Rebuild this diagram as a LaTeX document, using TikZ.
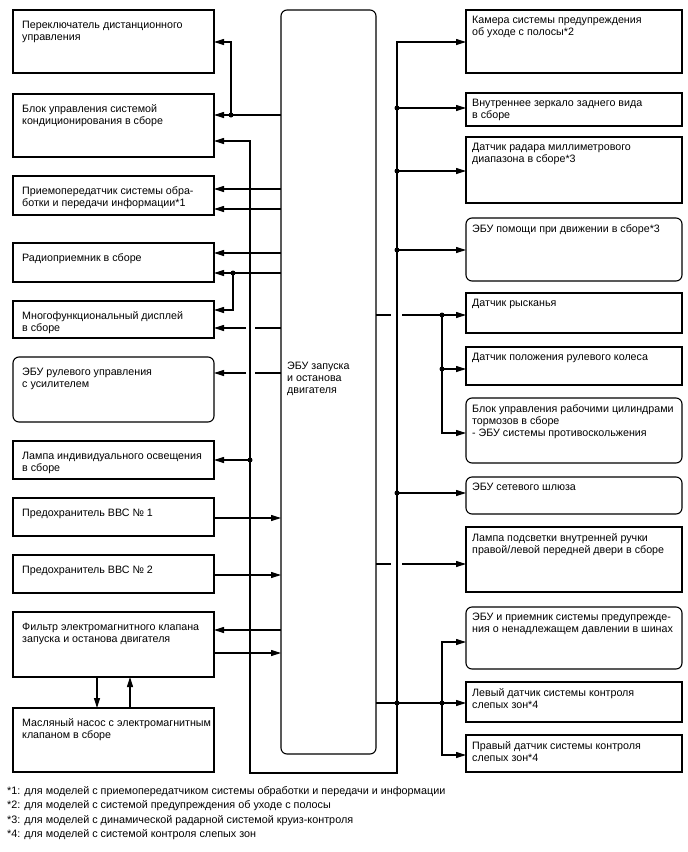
\documentclass[tikz,border=0pt]{standalone}
\usepackage{fontspec}
\setmainfont{Liberation Sans}
\usetikzlibrary{arrows.meta,calc}
\newcommand\mkbox[7]{\node[#1, minimum width=#5-#3, minimum height=#6-#4] (#2) at ({(#3+#5)/2},{(#4+#6)/2}) {};\node[#1txt] (#2t) at (#2.north west) {#7};}
\begin{document}
\begin{tikzpicture}[x=1pt,y=-1pt,
  box/.style={draw, line width=1.1pt, inner sep=0pt, outer sep=0pt},
  rbox/.style={box, rounded corners=6pt},
  lb/.style={box}, lr/.style={rbox}, rb/.style={box}, rr/.style={rbox},
  lbtxt/.style={anchor=north west, inner sep=0pt, align=left, xshift=9pt, yshift=-10.5pt, font=\fontsize{10.7}{12}\selectfont},
  lrtxt/.style={lbtxt},
  rbtxt/.style={anchor=north west, inner sep=0pt, align=left, xshift=6pt, yshift=-6pt, font=\fontsize{10.7}{12}\selectfont},
  rrtxt/.style={rbtxt},
  wire/.style={line width=1.1pt},
  arr/.style={wire, -{Triangle[length=10pt,width=6pt]}},
  dot/.style={circle, fill, inner sep=0pt, minimum size=5pt}]
\useasboundingbox (0,0) rectangle (688,852);
% central ECU
\node[rbox, minimum width=95, minimum height=744] (ecu) at (328.5,382) {};
\node[anchor=north west, inner sep=0pt, align=left, font=\fontsize{10.7}{12}\selectfont] (ecut) at (287,362) {ЭБУ запуска\\и останова\\двигателя};
% left boxes
\mkbox{lb}{l1}{13}{10}{214}{73}{Переключатель дистанционного\\управления}
\mkbox{lb}{l2}{13}{94}{214}{157}{Блок управления системой\\кондиционирования в сборе}
\mkbox{lb}{l3}{13}{176}{214}{215}{Приемопередатчик системы обра-\\ботки и передачи информации*1}
\mkbox{lb}{l4}{13}{243}{214}{282}{Радиоприемник в сборе}
\mkbox{lb}{l5}{13}{301}{214}{338}{Многофункциональный дисплей\\в сборе}
\mkbox{lr}{l6}{13}{357}{214}{422}{ЭБУ рулевого управления\\с усилителем}
\mkbox{lb}{l7}{13}{441}{214}{479}{Лампа индивидуального освещения\\в сборе}
\mkbox{lb}{l8}{13}{498}{214}{536}{Предохранитель ВВС № 1}
\mkbox{lb}{l9}{13}{555}{214}{593}{Предохранитель ВВС № 2}
\mkbox{lb}{l10}{13}{612}{214}{677}{Фильтр электромагнитного клапана\\запуска и останова двигателя}
\mkbox{lb}{l11}{13}{708}{214}{772}{Масляный насос с электромагнитным\\клапаном в сборе}
% right boxes
\mkbox{rb}{r1}{466}{10}{682}{73}{Камера системы предупреждения\\об уходе с полосы*2}
\mkbox{rb}{r2}{466}{93}{682}{126}{Внутреннее зеркало заднего вида\\в сборе}
\mkbox{rb}{r3}{466}{137}{682}{203}{Датчик радара миллиметрового\\диапазона в сборе*3}
\mkbox{rr}{r4}{466}{218}{682}{281}{ЭБУ помощи при движении в сборе*3}
\mkbox{rb}{r5}{466}{293}{682}{333}{Датчик рысканья}
\mkbox{rb}{r6}{466}{347}{682}{385}{Датчик положения рулевого колеса}
\mkbox{rr}{r7}{466}{398}{682}{463}{Блок управления рабочими цилиндрами\\тормозов в сборе\\- ЭБУ системы противоскольжения}
\mkbox{rr}{r8}{466}{477}{682}{514}{ЭБУ сетевого шлюза}
\mkbox{rb}{r9}{466}{527}{682}{592}{Лампа подсветки внутренней ручки\\правой/левой передней двери в сборе}
\mkbox{rr}{r10}{466}{607}{682}{669}{ЭБУ и приемник системы предупрежде-\\ния о ненадлежащем давлении в шинах}
\mkbox{rb}{r11}{466}{682}{682}{722}{Левый датчик системы контроля\\слепых зон*4}
\mkbox{rb}{r12}{466}{735}{682}{772}{Правый датчик системы контроля\\слепых зон*4}
% bus loop
\coordinate (b1) at (250,141);
\coordinate (b2) at (250,773);
\coordinate (b3) at (397,773);
\coordinate (b4) at (397,42);
\draw[wire, {Triangle[length=10pt,width=6pt]}-{Triangle[length=10pt,width=6pt]}] (l2.east |- b1) -- (b1) -- (b2) -- (b3) -- (b4) -- (r1.west |- b4);
% left connectors
\node[dot] (d1) at (231,115) {};
\draw[arr] (ecu.west |- d1) -- (l2.east |- d1);
\draw[arr] (d1.center) |- (l1.east |- 0,42);
\draw[arr] (ecu.west |- 0,189) -- (l3.east |- 0,189);
\draw[arr] (ecu.west |- 0,209) -- (l3.east |- 0,209);
\draw[arr] (ecu.west |- 0,253) -- (l4.east |- 0,253);
\node[dot] (d2) at (233,273) {};
\draw[arr] (ecu.west |- d2) -- (l4.east |- d2);
\draw[arr] (d2.center) |- (l5.east |- 0,310);
\draw[wire] (ecu.west |- 0,328) -- (255,328);
\draw[arr] (246,328) -- (l5.east |- 0,328);
\draw[wire] (ecu.west |- 0,373) -- (255,373);
\draw[arr] (246,373) -- (l6.east |- 0,373);
\node[dot] (d3) at (250,460) {};
\draw[arr] (d3.center) -- (l7.east |- d3);
\draw[arr] (l8.east |- 0,518) -- (ecu.west |- 0,518);
\draw[arr] (l9.east |- 0,575) -- (ecu.west |- 0,575);
\draw[arr] (ecu.west |- 0,630) -- (l10.east |- 0,630);
\draw[arr] (l10.east |- 0,653) -- (ecu.west |- 0,653);
\draw[arr] (l10.south -| 97,0) -- (l11.north -| 97,0);
\draw[arr] (l11.north -| 130,0) -- (l10.south -| 130,0);
% right connectors
\foreach \y/\t [count=\i] in {108/r2,171/r3,250/r4,493/r8}{
  \node[dot] (rd\i) at (397,\y) {};
  \draw[arr] (rd\i.center) -- (\t.west |- rd\i);
}
\draw[wire] (ecu.east |- 0,315) -- (391,315);
\node[dot] (dy) at (442,315) {};
\draw[arr] (402,315) -- (r5.west |- dy);
\draw[arr] (dy.center) |- (r7.west |- 0,433);
\node[dot] (ds) at (442,369) {};
\draw[arr] (ds.center) -- (r6.west |- ds);
\draw[wire] (ecu.east |- 0,564) -- (391,564);
\draw[arr] (402,564) -- (r9.west |- 0,564);
\node[dot] (db1) at (397,703) {};
\node[dot] (db2) at (442,703) {};
\draw[arr] (ecu.east |- db1) -- (r11.west |- db1);
\draw[arr] (db2.center) |- (r10.west |- 0,642);
\draw[arr] (db2.center) |- (r12.west |- 0,755);
% footnotes
\node[anchor=north west, inner sep=0pt, align=left, font=\fontsize{10.8}{14.2}\selectfont] (fn) at (7,786.5) {*1: для моделей с приемопередатчиком системы обработки и передачи и информации\\*2: для моделей с системой предупреждения об уходе с полосы\\*3: для моделей с динамической радарной системой круиз-контроля\\*4: для моделей с системой контроля слепых зон};
\end{tikzpicture}
\end{document}
